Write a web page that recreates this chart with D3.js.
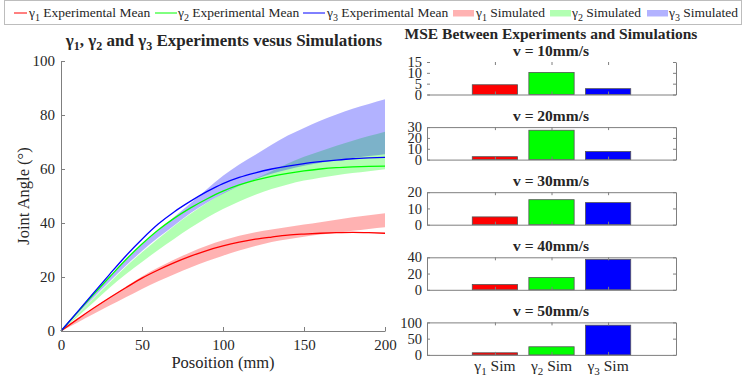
<!DOCTYPE html>
<html>
<head>
<meta charset="utf-8">
<script src="https://cdn.jsdelivr.net/npm/d3@7"></script>
<style>
    body { margin: 0; background: #fff; }
    text { font-family: "Liberation Serif", "Times New Roman", serif; fill: #262626; }
</style>
</head>
<body>
<div id="chart"></div>
<script>
// Datos
var positions = [0, 10, 20, 30, 40, 50, 60, 70, 80, 90, 100, 110, 120, 130, 140, 150, 160, 170, 180, 190, 200];

var g1Mean = [0, 4.3, 8.4, 12.3, 16.0, 19.6, 22.6, 25.3, 27.7, 29.8, 31.5, 32.9, 34.0, 34.8, 35.5, 35.9, 36.2, 36.4, 36.5, 36.4, 36.2];
var g1Low  = [0, 3.1, 6.3, 9.4, 12.5, 15.6, 18.4, 21.0, 23.5, 25.8, 27.9, 29.8, 31.5, 33.0, 34.0, 34.9, 35.7, 36.4, 37.1, 37.8, 38.4];
var g1High = [0, 4.3, 8.5, 12.5, 16.4, 20.2, 23.5, 26.5, 29.2, 31.6, 33.6, 35.3, 36.6, 37.6, 38.5, 39.4, 40.3, 41.2, 42.1, 42.9, 43.6];

var g2Mean = [0, 6.8, 13.5, 20.0, 26.4, 32.2, 37.4, 41.8, 45.6, 48.9, 51.8, 54.1, 55.9, 57.3, 58.4, 59.3, 60.0, 60.5, 60.8, 61.0, 61.1];
var g2Low  = [0, 5.2, 10.6, 16.0, 21.0, 25.6, 30.0, 34.2, 38.2, 41.9, 45.2, 48.0, 50.5, 52.6, 54.3, 55.7, 56.8, 57.7, 58.5, 59.2, 59.9];
var g2High = [0, 6.0, 12.0, 18.0, 23.8, 29.2, 34.2, 39.0, 43.4, 47.4, 51.0, 53.9, 56.5, 59.2, 62.0, 64.5, 66.6, 68.6, 70.5, 72.2, 73.8];

var g3Mean = [0, 7.0, 14.0, 21.0, 27.8, 34.0, 39.6, 44.2, 48.1, 51.6, 54.6, 56.9, 58.6, 60.0, 61.1, 62.0, 62.7, 63.3, 63.8, 64.1, 64.3];
var g3Low  = [0, 6.2, 12.3, 18.3, 24.2, 29.6, 34.6, 39.2, 43.7, 47.5, 50.8, 53.8, 56.2, 58.2, 59.8, 61.2, 62.3, 63.2, 64.0, 64.8, 65.5];
var g3High = [0, 6.7, 13.4, 19.8, 26.2, 32.0, 37.3, 42.3, 47.3, 52.5, 57.5, 61.7, 65.3, 69.0, 72.4, 75.2, 77.9, 80.2, 82.3, 84.1, 85.8];

var xTicks = [0, 50, 100, 150, 200];
var yTicks = [0, 20, 40, 60, 80, 100];

// MSE por velocidad (γ1, γ2, γ3)
var speedTitles = ["v = 10mm/s", "v = 20mm/s", "v = 30mm/s", "v = 40mm/s", "v = 50mm/s"];
var mse10 = [4.5, 10.2, 2.7];
var mse20 = [2.7, 27.1, 7.5];
var mse30 = [4.8, 15.4, 13.6];
var mse40 = [6.5, 15.2, 37.5];
var mse50 = [6.5, 25, 91.5];
var mseMax = [15, 30, 20, 40, 100];
var mseTicks = [[0, 5, 10, 15], [0, 10, 20, 30], [0, 10, 20], [0, 20, 40], [0, 50, 100]];
var simIndex = [1, 2, 3];

var colors = ["#ff0000", "#00ff00", "#0000ff"];
var axisColor = "#7f7f7f";
var serif = '"Liberation Serif", "Times New Roman", serif';

var svg = d3.select("#chart")
    .append("svg")
    .attr("width", 747)
    .attr("height", 383);

// ---- Leyenda ----
var legend = svg.append("g");
legend.append("rect")
    .attr("x", 4.5).attr("y", 0.5)
    .attr("width", 737).attr("height", 24)
    .attr("fill", "#fff")
    .attr("stroke", "#bdbdbd");

var lineItems = [{x1: 14, x2: 27, tx: 29}, {x1: 155, x2: 177, tx: 178}, {x1: 303, x2: 325, tx: 327}];
lineItems.forEach(function(it, i) {
    legend.append("line")
        .attr("x1", it.x1).attr("x2", it.x2)
        .attr("y1", 13).attr("y2", 13)
        .attr("stroke", colors[i]).attr("stroke-width", 1);
    var t = legend.append("text").attr("x", it.tx).attr("y", 17).style("font-size", "13.5px");
    t.append("tspan").text("γ");
    t.append("tspan").attr("dy", 4).style("font-size", "10px").text(i + 1);
    t.append("tspan").attr("dy", -4).text(" Experimental Mean");
});

var patchItems = [{x: 453, tx: 476}, {x: 550, tx: 572}, {x: 647, tx: 669}];
patchItems.forEach(function(it, i) {
    legend.append("rect")
        .attr("x", it.x).attr("y", 10)
        .attr("width", 21).attr("height", 6.5)
        .attr("fill", colors[i]).attr("fill-opacity", 0.3);
    var t = legend.append("text").attr("x", it.tx).attr("y", 17).style("font-size", "13.5px");
    t.append("tspan").text("γ");
    t.append("tspan").attr("dy", 4).style("font-size", "10px").text(i + 1);
    t.append("tspan").attr("dy", -4).text(" Simulated");
});

// ---- Gráfica izquierda ----
var xScale = d3.scaleLinear().domain([0, 200]).range([61, 385]);
var yScale = d3.scaleLinear().domain([0, 100]).range([331, 61]);

var left = svg.append("g");

var bands = [[g1Low, g1High], [g2Low, g2High], [g3Low, g3High]];
var means = [g1Mean, g2Mean, g3Mean];

var area = d3.area()
    .x(function(d) { return xScale(d.x); })
    .y0(function(d) { return yScale(d.lo); })
    .y1(function(d) { return yScale(d.hi); })
    .curve(d3.curveMonotoneX);

bands.forEach(function(b, i) {
    var rows = positions.map(function(p, k) { return {x: p, lo: b[0][k], hi: b[1][k]}; });
    left.append("path")
        .datum(rows)
        .attr("d", area)
        .attr("fill", colors[i])
        .attr("fill-opacity", 0.3)
        .attr("stroke", "none");
});

var line = d3.line()
    .x(function(d) { return xScale(d.x); })
    .y(function(d) { return yScale(d.y); })
    .curve(d3.curveMonotoneX);

means.forEach(function(m, i) {
    var rows = positions.map(function(p, k) { return {x: p, y: m[k]}; });
    left.append("path")
        .datum(rows)
        .attr("d", line)
        .attr("fill", "none")
        .attr("stroke", colors[i])
        .attr("stroke-width", 1.3);
});

var xAxis = left.append("g")
    .attr("transform", "translate(0,331)")
    .call(d3.axisBottom(xScale).tickValues(xTicks).tickSize(-4).tickSizeOuter(0).tickPadding(8));
var yAxis = left.append("g")
    .attr("transform", "translate(61,0)")
    .call(d3.axisLeft(yScale).tickValues(yTicks).tickSize(-4).tickSizeOuter(0).tickPadding(6));

[xAxis, yAxis].forEach(function(a) {
    a.select(".domain").attr("stroke", axisColor);
    a.selectAll(".tick line").attr("stroke", axisColor);
    a.selectAll("text").style("font-size", "15px").attr("fill", "#262626");
});

var leftTitle = left.append("text")
    .attr("x", 224).attr("y", 46)
    .attr("text-anchor", "middle")
    .style("font-size", "17px")
    .style("font-weight", "bold");
leftTitle.append("tspan").text("γ");
leftTitle.append("tspan").attr("dy", 4).style("font-size", "12px").text("1");
leftTitle.append("tspan").attr("dy", -4).text(", γ");
leftTitle.append("tspan").attr("dy", 4).style("font-size", "12px").text("2");
leftTitle.append("tspan").attr("dy", -4).text(" and γ");
leftTitle.append("tspan").attr("dy", 4).style("font-size", "12px").text("3");
leftTitle.append("tspan").attr("dy", -4).text(" Experiments vesus Simulations");

left.append("text")
    .attr("x", 223).attr("y", 368)
    .attr("text-anchor", "middle")
    .style("font-size", "16.5px")
    .text("Posoition (mm)");

left.append("text")
    .attr("transform", "translate(29,196) rotate(-90)")
    .attr("text-anchor", "middle")
    .style("font-size", "16.5px")
    .text("Joint Angle (°)");

// ---- Barras MSE ----
var right = svg.append("g");

right.append("text")
    .attr("x", 551).attr("y", 39)
    .attr("text-anchor", "middle")
    .style("font-size", "15.5px")
    .style("font-weight", "bold")
    .text("MSE Between Experiments and Simulations");

var xBar = d3.scaleLinear().domain([-0.2, 4.2]).range([427, 676]);
var barWidth = xBar(0.8) - xBar(0);
var mseAll = [mse10, mse20, mse30, mse40, mse50];

mseAll.forEach(function(vals, i) {
    var top = 62 + 65.1 * i;
    var bottom = top + 32.5;
    var yBar = d3.scaleLinear().domain([0, mseMax[i]]).range([bottom, top]);
    var g = right.append("g");

    g.append("text")
        .attr("x", 551).attr("y", top - 6)
        .attr("text-anchor", "middle")
        .style("font-size", "15.5px")
        .style("font-weight", "bold")
        .text(speedTitles[i]);

    g.selectAll("rect.bar")
        .data(vals)
        .enter()
        .append("rect")
        .attr("class", "bar")
        .attr("x", function(d, k) { return xBar(simIndex[k]) - barWidth / 2; })
        .attr("y", function(d) { return yBar(d); })
        .attr("width", barWidth)
        .attr("height", function(d) { return bottom - yBar(d); })
        .attr("fill", function(d, k) { return colors[k]; })
        .attr("stroke", "#555")
        .attr("stroke-width", 0.8);

    var axL = g.append("g").attr("transform", "translate(427,0)")
        .call(d3.axisLeft(yBar).tickValues(mseTicks[i]).tickSize(-3).tickSizeOuter(0).tickPadding(5));
    var axR = g.append("g").attr("transform", "translate(676,0)")
        .call(d3.axisRight(yBar).tickValues(mseTicks[i]).tickSize(-3).tickSizeOuter(0).tickFormat(""));
    var axT = g.append("g").attr("transform", "translate(0," + top + ")")
        .call(d3.axisTop(xBar).tickValues(simIndex).tickSize(-3).tickSizeOuter(0).tickFormat(""));
    var axB = g.append("g").attr("transform", "translate(0," + bottom + ")")
        .call(d3.axisBottom(xBar).tickValues(simIndex).tickSize(-3).tickSizeOuter(0).tickFormat(""));

    [axL, axR, axT, axB].forEach(function(a) {
        a.select(".domain").attr("stroke", axisColor);
        a.selectAll(".tick line").attr("stroke", axisColor);
        a.selectAll("text").style("font-size", "14.5px").attr("fill", "#262626");
    });

    // el primer panel no muestra borde izquierdo ni superior
    if (i === 0) {
        axL.select(".domain").remove();
        axT.select(".domain").remove();
    }

    if (i === mseAll.length - 1) {
        simIndex.forEach(function(s) {
            var t = g.append("text")
                .attr("x", xBar(s)).attr("y", 371)
                .attr("text-anchor", "middle")
                .style("font-size", "15.5px");
            t.append("tspan").text("γ");
            t.append("tspan").attr("dy", 4).style("font-size", "11px").text(s);
            t.append("tspan").attr("dy", -4).text(" Sim");
        });
    }
});

// todas las etiquetas en serif (los ejes de d3 ponen sans-serif)
svg.selectAll("text").style("font-family", serif);
</script>
</body>
</html>
